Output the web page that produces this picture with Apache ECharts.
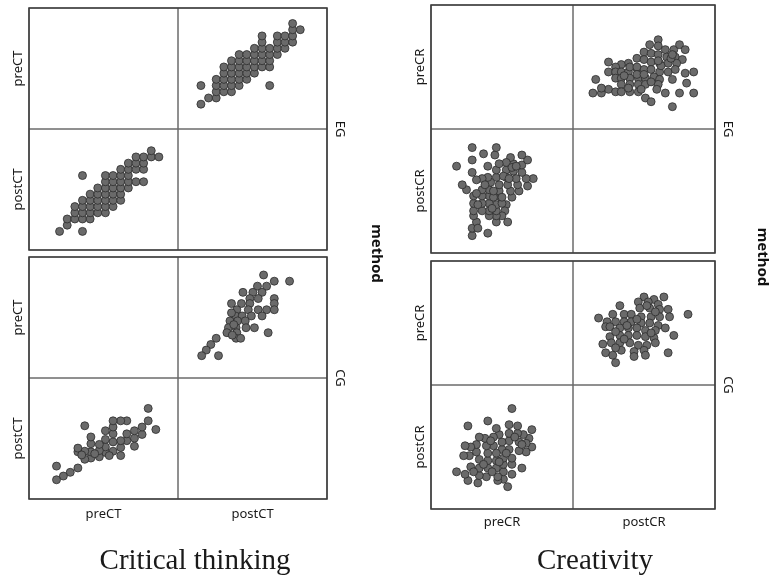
<!DOCTYPE html>
<html>
<head>
<meta charset="utf-8">
<script src="https://cdn.jsdelivr.net/npm/echarts@6/dist/echarts.min.js"></script>
<style>
  html, body { margin: 0; padding: 0; background: #fff; }
  #main { width: 773px; height: 581px; }
</style>
</head>
<body>
<div id="main"></div>
<script>
var groups = ['EG', 'CG'];
var ctVars = ['preCT', 'postCT'];
var crVars = ['preCR', 'postCR'];

// critical thinking, experimental group (pre, post pairs)
var preCT_EG  = [6, 7, 7, 8, 8, 8, 9, 9, 9, 9, 9, 9, 10, 10, 10, 10, 10, 11, 11, 11, 11, 11,
                 12, 12, 12, 12, 12, 12, 12, 13, 13, 13, 13, 13, 13, 14, 14, 14, 14, 14, 14,
                 15, 15, 15, 15, 15, 16, 16, 16, 16, 17, 17, 17, 17, 18, 18, 19];
var postCT_EG = [5, 6, 7, 7, 8, 9, 5, 7, 8, 9, 10, 14, 7, 8, 9, 10, 11, 8, 9, 10, 11, 12,
                 8, 9, 10, 11, 12, 13, 14, 9, 10, 11, 12, 13, 14, 10, 11, 12, 13, 14, 15,
                 12, 13, 14, 15, 16, 13, 15, 16, 17, 13, 15, 16, 17, 17, 18, 17];

// critical thinking, control group
var preCT_CG  = [18.6, 17.6, 17.6, 16.8, 16.8, 15.8, 15.8, 15.8, 14.8, 14.8, 14.8, 14.0, 14.0, 14.0,
                 14.0, 13.0, 13.0, 13.0, 13.0, 13.0, 12.0, 12.0, 12.0, 12.0, 11.2, 11.2, 11.2, 10.1,
                 10.1, 10.1, 10.1, 9.3, 9.3, 9.3, 8.4, 8.4, 8.4, 7.4, 6.5, 5.6, 5.6, 12.5, 10.6, 8.9];
var postCT_CG = [13.2, 14.6, 16.6, 12.4, 13.6, 10.5, 11.8, 13.0, 11.4, 12.5, 14.6, 9.0, 10.3, 11.4,
                 14.6, 9.7, 11.2, 12.5, 13.6, 14.6, 9.5, 10.4, 11.6, 13.0, 8.8, 9.8, 10.8, 8.6,
                 9.6, 10.9, 12.0, 8.4, 9.7, 13.8, 9.6, 10.2, 7.0, 6.3, 5.7, 5.1, 7.3, 9.0, 9.3, 9.1];

// creativity, experimental group
var preCR_EG  = [72, 68, 67, 64, 64, 68, 64, 62, 61, 60, 58, 58, 56, 57, 56, 54, 53, 53, 53, 53,
                 52, 50, 54, 46, 46, 46, 46, 49, 48, 48, 46, 46, 48, 41, 41, 41, 41, 41, 42, 40,
                 40, 45, 46, 37, 36, 36, 36, 36, 36, 40, 29, 29, 32, 30, 30, 30, 30, 33, 32, 29,
                 29, 29, 25, 22, 18, 33, 32, 50, 50, 44, 44, 51, 57, 60, 38, 43, 55];
var postCR_EG = [60, 54, 60, 65, 71, 75, 79, 50, 55, 60, 66, 72, 77, 45, 50, 55, 61, 67, 73, 39,
                 34, 30, 25, 25, 30, 34, 39, 45, 50, 55, 61, 67, 72, 30, 34, 40, 46, 51, 57, 61,
                 70, 79, 85, 80, 34, 40, 46, 51, 60, 16, 14, 20, 25, 30, 34, 40, 46, 20, 59, 65,
                 75, 85, 51, 55, 70, 39, 48, 40, 45, 45, 50, 62, 69, 70, 55, 36, 60];

// creativity, control group
var preCR_CG  = [71, 69, 71, 67, 67, 65, 62, 62, 61, 61, 64, 54, 57, 57, 57, 55, 55, 55, 55, 57,
                 51, 51, 51, 51, 50, 50, 48, 47, 47, 46, 46, 46, 44, 44, 46, 40, 40, 40, 39, 38,
                 39, 40, 33, 34, 34, 34, 32, 32, 34, 26, 24, 28, 27, 28, 18, 23, 24, 26,
                 64, 59, 53, 48, 43, 37, 30, 42];
var postCR_CG = [50, 57, 64, 46, 53, 60, 47, 54, 61, 67, 33, 18, 28, 36, 41, 48, 55, 61, 68, 81,
                 24, 30, 36, 41, 48, 54, 60, 23, 26, 33, 39, 45, 51, 58, 65, 33, 39, 45, 51, 57,
                 26, 71, 21, 27, 33, 40, 46, 52, 58, 23, 28, 34, 43, 50, 30, 43, 51, 67,
                 52, 58, 45, 38, 30, 36, 30, 55];

var panels = [
  { vars: ctVars, left: 29, cellW: 149, cellH: 121, tops: [8, 257], min: 2, max: 21.5,
    pre: [preCT_EG, preCT_CG], post: [postCT_EG, postCT_CG], xGap: 9,
    title: 'Critical thinking', titleX: 195, groupX: 340, methodX: 376 },
  { vars: crVars, left: 431, cellW: 142, cellH: 124, tops: [5, 261], min: 0, max: 100,
    pre: [preCR_EG, preCR_CG], post: [postCR_EG, postCR_CG], xGap: 7,
    title: 'Creativity', titleX: 595, groupX: 728, methodX: 762 }
];

var labelFont = { fontFamily: 'Noto Sans', fontSize: 13, color: '#1a1a1a' };
var grids = [], xAxes = [], yAxes = [], series = [], graphics = [];
var idx = 0;

panels.forEach(function (P) {
  groups.forEach(function (grp, g) {
    var vals = [P.pre[g], P.post[g]];
    for (var r = 0; r < 2; r++) {
      for (var c = 0; c < 2; c++) {
        grids.push({
          left: P.left + c * P.cellW, top: P.tops[g] + r * P.cellH,
          width: P.cellW, height: P.cellH,
          show: true, borderColor: '#6a6a6a', borderWidth: 1,
          backgroundColor: 'rgba(0,0,0,0)'
        });
        var xNamed = (g === 1 && r === 1);
        var yNamed = (c === 0);
        xAxes.push({
          gridIndex: idx, type: 'value', min: P.min, max: P.max,
          show: xNamed, name: xNamed ? P.vars[c] : '',
          nameLocation: 'middle', nameGap: P.xGap, nameTextStyle: labelFont,
          axisLine: { show: false }, axisTick: { show: false },
          axisLabel: { show: false }, splitLine: { show: false }
        });
        yAxes.push({
          gridIndex: idx, type: 'value', min: P.min, max: P.max,
          show: yNamed, name: yNamed ? P.vars[r] : '',
          nameLocation: 'middle', nameGap: 4, nameRotate: 90, nameTextStyle: labelFont,
          axisLine: { show: false }, axisTick: { show: false },
          axisLabel: { show: false }, splitLine: { show: false }
        });
        if (r !== c) {
          series.push({
            type: 'scatter', xAxisIndex: idx, yAxisIndex: idx,
            symbolSize: 8,
            itemStyle: { color: '#6a6a6a', borderColor: '#2c2c2c', borderWidth: 0.8, opacity: 1 },
            data: vals[c].map(function (v, i) { return [v, vals[r][i]]; })
          });
        }
        idx++;
      }
    }
    // block outline and group label
    graphics.push({
      type: 'rect', silent: true, z: 10,
      shape: { x: P.left, y: P.tops[g], width: 2 * P.cellW, height: 2 * P.cellH },
      style: { fill: 'none', stroke: '#3c3c3c', lineWidth: 1.6 }
    });
    graphics.push({
      type: 'text', x: P.groupX, y: P.tops[g] + P.cellH, rotation: -Math.PI / 2,
      style: { text: grp, font: '13px "Noto Sans"', fill: '#1a1a1a',
               align: 'center', verticalAlign: 'middle',
               textAlign: 'center', textVerticalAlign: 'middle' }
    });
  });
  graphics.push({
    type: 'text', x: P.methodX, y: (P.tops[0] + P.tops[1] + 2 * P.cellH) / 2, rotation: -Math.PI / 2,
    style: { text: 'method', font: 'bold 15px "Noto Sans"', fill: '#111',
             align: 'center', verticalAlign: 'middle',
             textAlign: 'center', textVerticalAlign: 'middle' }
  });
  graphics.push({
    type: 'text', x: P.titleX, y: 561,
    style: { text: P.title, font: '29px "Liberation Serif"', fill: '#1a1a1a',
             align: 'center', verticalAlign: 'middle',
             textAlign: 'center', textVerticalAlign: 'middle' }
  });
});

var chart = echarts.init(document.getElementById('main'));
chart.setOption({
  backgroundColor: '#fff',
  animation: false,
  grid: grids,
  xAxis: xAxes,
  yAxis: yAxes,
  series: series,
  graphic: graphics
});
</script>
</body>
</html>
